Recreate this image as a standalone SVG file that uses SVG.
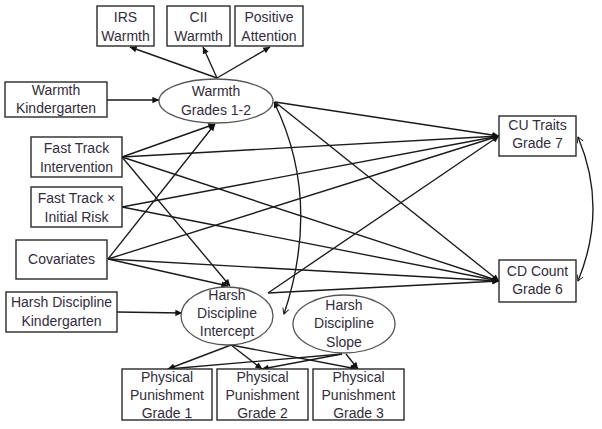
<svg xmlns="http://www.w3.org/2000/svg" width="602" height="429" viewBox="0 0 602 429">
<defs>
<marker id="arr" viewBox="0 0 10 10" refX="9.5" refY="5" markerWidth="8" markerHeight="7" markerUnits="userSpaceOnUse" orient="auto">
<path d="M0,0.5 L10,5 L0,9.5 z" fill="#111"/>
</marker>
<marker id="arrs" viewBox="0 0 10 10" refX="9.5" refY="5" markerWidth="7" markerHeight="6" markerUnits="userSpaceOnUse" orient="auto-start-reverse">
<path d="M0,0.5 L10,5 L0,9.5 z" fill="#111"/>
</marker>
<marker id="open" viewBox="0 0 10 10" refX="9" refY="5" markerWidth="7" markerHeight="7" markerUnits="userSpaceOnUse" orient="auto-start-reverse">
<path d="M1,0.5 L9,5 L1,9.5" fill="none" stroke="#111" stroke-width="1.3"/>
</marker>
<style>
.box{fill:#fff;stroke:#2a2a2a;stroke-width:1.4}
.ell{fill:#fff;stroke:#555;stroke-width:1.3}
.t{font-family:"Liberation Sans",Arial,sans-serif;font-size:14px;fill:#332c3c;text-anchor:middle}
.c{fill:none;stroke:#1a1a1a;stroke-width:1.35}
.a{marker-end:url(#arr)}
.d{marker-start:url(#open);marker-end:url(#open)}
.w{marker-start:url(#arrs);marker-end:url(#open)}
</style>
</defs>
<rect width="602" height="429" fill="#fff"/>

<g id="connectors">
<line class="c a" x1="217" y1="78" x2="130" y2="47"/>
<line class="c a" x1="217" y1="78" x2="203" y2="47"/>
<line class="c a" x1="217" y1="78" x2="270" y2="47"/>
<line class="c a" x1="107" y1="100" x2="159" y2="100"/>
<line class="c a" x1="117" y1="312" x2="182" y2="313"/>
<line class="c a" x1="122" y1="157" x2="215" y2="124"/>
<line class="c a" x1="122" y1="157" x2="499" y2="136"/>
<line class="c a" x1="122" y1="157" x2="499" y2="281"/>
<line class="c a" x1="122" y1="157" x2="230" y2="286"/>
<line class="c a" x1="122" y1="207" x2="499" y2="136"/>
<line class="c a" x1="122" y1="207" x2="499" y2="281"/>
<line class="c a" x1="108" y1="259" x2="215" y2="124"/>
<line class="c a" x1="108" y1="259" x2="499" y2="136"/>
<line class="c a" x1="108" y1="259" x2="499" y2="281"/>
<line class="c a" x1="108" y1="259" x2="228" y2="286"/>
<line class="c a" x1="275" y1="102" x2="499" y2="136"/>
<line class="c a" x1="275" y1="102" x2="499" y2="281"/>
<line class="c a" x1="268" y1="293" x2="499" y2="136"/>
<line class="c a" x1="268" y1="293" x2="499" y2="281"/>
<path class="c w" d="M274,102 Q322,200 284,314"/>
<path class="c d" d="M578,137 Q608,208 578,281"/>
<line class="c a" x1="231" y1="345" x2="168" y2="369"/>
<line class="c a" x1="231" y1="345" x2="262" y2="369"/>
<line class="c a" x1="231" y1="345" x2="357" y2="369"/>
<line class="c a" x1="342" y1="354" x2="168" y2="369"/>
<line class="c a" x1="342" y1="354" x2="262" y2="369"/>
<line class="c a" x1="346" y1="354" x2="358" y2="369"/>
</g>

<g id="irs">
<rect class="box" x="97" y="6" width="57" height="40"/>
<text class="t" x="125.5" y="21.5">IRS</text>
<text class="t" x="125.5" y="40.5">Warmth</text>
</g>
<g id="cii">
<rect class="box" x="167" y="6" width="63" height="40"/>
<text class="t" x="198.5" y="21.5">CII</text>
<text class="t" x="198.5" y="40.5">Warmth</text>
</g>
<g id="posatt">
<rect class="box" x="235" y="6" width="68" height="40"/>
<text class="t" x="269" y="21.5">Positive</text>
<text class="t" x="269" y="40.5">Attention</text>
</g>
<g id="warmthK">
<rect class="box" x="5" y="82" width="102" height="35"/>
<text class="t" x="56" y="94.5">Warmth</text>
<text class="t" x="56" y="112.5">Kindergarten</text>
</g>
<g id="warmth12">
<ellipse class="ell" cx="216" cy="101" rx="57" ry="22"/>
<text class="t" x="216" y="95.5">Warmth</text>
<text class="t" x="216" y="114.5">Grades 1-2</text>
</g>
<g id="fti">
<rect class="box" x="31" y="137" width="91" height="40"/>
<text class="t" x="76.5" y="152.5">Fast Track</text>
<text class="t" x="76.5" y="171.5">Intervention</text>
</g>
<g id="ftr">
<rect class="box" x="31" y="187" width="91" height="40"/>
<text class="t" x="76.5" y="202.5">Fast Track ×</text>
<text class="t" x="76.5" y="221.5">Initial Risk</text>
</g>
<g id="cov">
<rect class="box" x="16" y="240" width="91" height="39"/>
<text class="t" x="61.5" y="264">Covariates</text>
</g>
<g id="harshK">
<rect class="box" x="6" y="292" width="111" height="40"/>
<text class="t" x="61.5" y="306.5">Harsh Discipline</text>
<text class="t" x="61.5" y="326">Kindergarten</text>
</g>
<g id="intercept">
<ellipse class="ell" cx="227" cy="316" rx="46" ry="29"/>
<text class="t" x="227" y="299.5">Harsh</text>
<text class="t" x="227" y="317.5">Discipline</text>
<text class="t" x="227" y="335.5">Intercept</text>
</g>
<g id="slope">
<ellipse class="ell" cx="344" cy="324" rx="51" ry="29"/>
<text class="t" x="344" y="309.5">Harsh</text>
<text class="t" x="344" y="328">Discipline</text>
<text class="t" x="344" y="346.5">Slope</text>
</g>
<g id="pp1">
<rect class="box" x="122" y="369" width="90" height="51"/>
<text class="t" x="167" y="381.5">Physical</text>
<text class="t" x="167" y="400">Punishment</text>
<text class="t" x="167" y="417.5">Grade 1</text>
</g>
<g id="pp2">
<rect class="box" x="217" y="369" width="91" height="51"/>
<text class="t" x="262.5" y="381.5">Physical</text>
<text class="t" x="262.5" y="400">Punishment</text>
<text class="t" x="262.5" y="417.5">Grade 2</text>
</g>
<g id="pp3">
<rect class="box" x="313" y="369" width="91" height="51"/>
<text class="t" x="358.5" y="381.5">Physical</text>
<text class="t" x="358.5" y="400">Punishment</text>
<text class="t" x="358.5" y="417.5">Grade 3</text>
</g>
<g id="cu">
<rect class="box" x="499" y="116" width="77" height="40"/>
<text class="t" x="537.5" y="129.5">CU Traits</text>
<text class="t" x="537.5" y="147.5">Grade 7</text>
</g>
<g id="cd">
<rect class="box" x="499" y="260" width="77" height="42"/>
<text class="t" x="537.5" y="275.5">CD Count</text>
<text class="t" x="537.5" y="293.5">Grade 6</text>
</g>
</svg>
